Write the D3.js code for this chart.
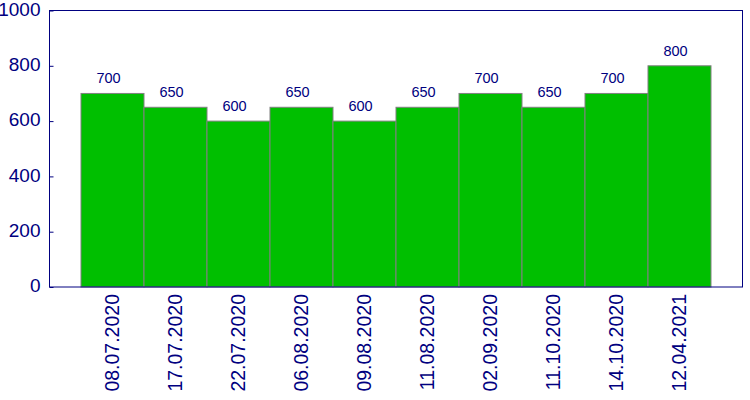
<!DOCTYPE html>
<html><head><meta charset="utf-8">
<script src="https://cdn.jsdelivr.net/npm/d3@7"></script>
<style>body{margin:0;background:#fff}svg{display:block}</style>
</head><body>
<script>
const categories = ["08.07.2020","17.07.2020","22.07.2020","06.08.2020","09.08.2020","11.08.2020","02.09.2020","11.10.2020","14.10.2020","12.04.2021"];
const values = [700,650,600,650,600,650,700,650,700,800];
const yTicks = [0,200,400,600,800,1000];

(function(){
const W=750,H=400;
const mLeft=49.5, mRight=742.5, mTop=10.5, mBottom=287;
const navy="#000080";
const svg=d3.select("body").append("svg").attr("width",W).attr("height",H);
const x=d3.scaleBand().domain(categories).range([mLeft,mRight]).paddingInner(0).paddingOuter(0.5);
const y=d3.scaleLinear().domain([0,1000]).range([mBottom,mTop]);

svg.append("g").selectAll("rect").data(values).join("rect")
  .attr("x",(d,i)=>x(categories[i]))
  .attr("y",d=>y(d))
  .attr("width",x.bandwidth())
  .attr("height",d=>mBottom-y(d))
  .attr("fill","#00bf00").attr("stroke","#808080").attr("stroke-width",1);

svg.append("g").selectAll("text").data(values).join("text")
  .attr("x",(d,i)=>x(categories[i])+x.bandwidth()/2-4)
  .attr("y",d=>y(d)-10)
  .attr("text-anchor","middle")
  .attr("font-family","Liberation Sans, Arial, sans-serif")
  .attr("font-size",14.5).attr("fill",navy).text(d=>d);

svg.append("rect").attr("x",mLeft).attr("y",mTop).attr("width",mRight-mLeft).attr("height",mBottom-mTop)
  .attr("fill","none").attr("stroke",navy).attr("stroke-width",1);

const yAxis=d3.axisLeft(y).tickValues(yTicks).tickSize(-4).tickPadding(9).tickFormat(d3.format("d"));
const ga=svg.append("g").attr("transform",`translate(${mLeft},0)`).call(yAxis);
ga.select(".domain").remove();
ga.selectAll("line").attr("stroke",navy);
ga.selectAll("text").attr("fill",navy).attr("font-family","Liberation Sans, Arial, sans-serif")
  .attr("font-size",19).attr("dy","0.25em");

svg.append("g").selectAll("text").data(categories).join("text")
  .attr("transform",d=>`translate(${x(d)+x.bandwidth()/2+6},294) rotate(-90)`)
  .attr("text-anchor","end")
  .attr("font-family","Liberation Sans, Arial, sans-serif")
  .attr("font-size",19.5).attr("fill",navy).text(d=>d);
})();
</script>
</body></html>
